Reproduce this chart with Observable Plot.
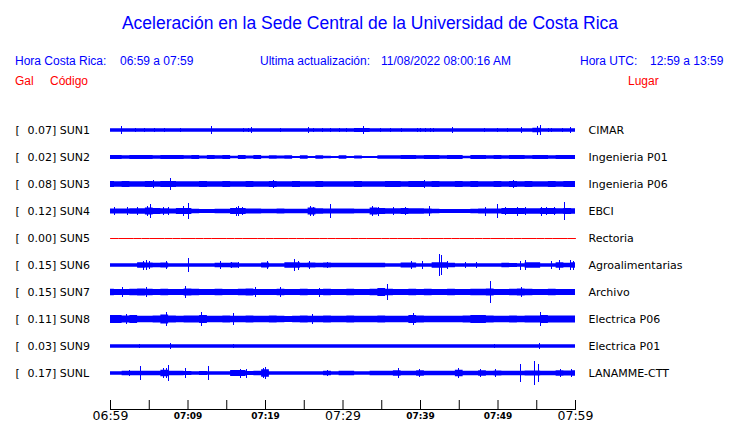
<!DOCTYPE html>
<html>
<head>
<meta charset="utf-8">
<script src="https://cdn.jsdelivr.net/npm/d3@7"></script>
<script src="https://cdn.jsdelivr.net/npm/@observablehq/plot@0.6"></script>
<style>
  html, body { margin: 0; padding: 0; background: #fff; }
  #page { position: relative; width: 740px; height: 423px; }
  #hdr { position: relative; width: 740px; height: 96px; font-family: "Liberation Sans", Arial, sans-serif; }
  #hdr span { position: absolute; white-space: pre; line-height: 12px; font-size: 12px; }
  #hdr .blue { color: #0000ff; }
  #hdr .red { color: #ff0000; }
  #title { position: absolute; left: 0; width: 740px; text-align: center; top: 14px; font-size: 17.5px !important; line-height: 18px !important; color: #0000ff; }
</style>
</head>
<body>
<div id="page">
  <div id="hdr">
    <span id="title">Aceleración en la Sede Central de la Universidad de Costa Rica</span>
    <span class="blue" style="left:15px;top:55px">Hora Costa Rica:</span>
    <span class="blue" style="left:120px;top:55px">06:59 a 07:59</span>
    <span class="blue" style="left:260px;top:55px">Ultima actualización:</span>
    <span class="blue" style="left:381px;top:55px">11/08/2022 08:00:16 AM</span>
    <span class="blue" style="left:580px;top:55px">Hora UTC:</span>
    <span class="blue" style="left:650px;top:55px">12:59 a 13:59</span>
    <span class="red" style="left:15px;top:75px">Gal</span>
    <span class="red" style="left:50px;top:75px">Código</span>
    <span class="red" style="left:628px;top:75px">Lugar</span>
  </div>
  <div id="chart"></div>
</div>
<script>
// ---- data ----
const stations = ["SUN1","SUN2","SUN3","SUN4","SUN5","SUN6","SUN7","SUN8","SUN9","SUNL"];
const places = ["CIMAR","Ingenieria P01","Ingenieria P06","EBCI","Rectoria","Agroalimentarias","Archivo","Electrica P06","Electrica P01","LANAMME-CTT"];
const maxGal = [0.07, 0.02, 0.08, 0.12, 0.00, 0.15, 0.15, 0.11, 0.03, 0.17];

// minutes after 06:59 for the axis
const tickMinutes = [0,5,10,15,20,25,30,35,40,45,50,55,60];
const labelMinutes = [0,10,20,30,40,50,60];
const tickLabels = ["06:59","07:09","07:19","07:29","07:39","07:49","07:59"];

// half-amplitude envelope (Gal), one value per minute 0..60
const envSUN1 = [0.021,0.021,0.021,0.021,0.021,0.021,0.021,0.021,0.021,0.021,
 0.021,0.021,0.021,0.021,0.021,0.021,0.021,0.021,0.021,0.021,
 0.021,0.021,0.021,0.021,0.021,0.021,0.021,0.021,0.021,0.021,
 0.021,0.022,0.024,0.024,0.021,0.021,0.021,0.021,0.021,0.021,
 0.021,0.021,0.021,0.021,0.021,0.021,0.021,0.021,0.021,0.021,
 0.021,0.021,0.021,0.021,0.021,0.026,0.022,0.021,0.021,0.021,0.021];
const envSUN2 = [0.024,0.024,0.022,0.024,0.024,0.024,0.022,0.024,0.024,0.024,0.022,0.024,
 0.018,0.024,0.02,0.024,0.016,0.024,0.018,0.024,0.016,0.022,0.018,
 0.022,0.012,0.02,0.012,0.022,0.016,0.012,0.02,0.012,0.018,0.012,
 0.012,0.02,0.022,0.02,0.024,0.024,0.022,0.024,0.024,0.022,0.024,0.024,
 0.014,0.024,0.024,0.022,0.024,0.022,0.024,0.024,0.022,0.024,0.024,0.022,0.024,0.024,0.024];
const envSUN3 = [0.037,0.033,0.037,0.035,0.033,0.037,0.035,0.037,0.037,0.033,0.035,0.033,
 0.037,0.033,0.035,0.037,0.033,0.035,0.037,0.033,0.035,0.037,0.033,
 0.035,0.037,0.033,0.035,0.037,0.033,0.035,0.033,0.035,0.037,0.033,
 0.033,0.035,0.037,0.037,0.035,0.037,0.037,0.035,0.037,0.033,0.035,0.037,
 0.035,0.037,0.035,0.033,0.037,0.035,0.037,0.035,0.037,0.035,0.033,0.037,0.035,0.037,0.037];
const envSUN4 = [0.03,0.03,0.03,0.033,0.033,0.042,0.038,0.033,0.03,0.036,0.038,0.027,
 0.024,0.024,0.026,0.026,0.038,0.038,0.03,0.03,0.027,0.027,0.03,
 0.027,0.027,0.027,0.042,0.033,0.03,0.03,0.03,0.03,0.029,0.029,
 0.042,0.038,0.033,0.033,0.036,0.033,0.033,0.03,0.027,0.025,0.025,0.025,
 0.025,0.027,0.03,0.03,0.03,0.036,0.038,0.036,0.033,0.033,0.036,0.038,0.033,0.036,0.033];
const envSUN5 = [0,0,0,0,0,0,0,0,0,0,0,0,0,0,0,0,0,0,0,0,0,0,0,0,0,0,0,0,0,0,
 0,0,0,0,0,0,0,0,0,0,0,0,0,0,0,0,0,0,0,0,0,0,0,0,0,0,0,0,0,0,0];
const envSUN6 = [0.021,0.021,0.022,0.022,0.035,0.03,0.026,0.03,0.022,0.022,0.022,0.021,
 0.021,0.021,0.028,0.026,0.03,0.022,0.022,0.021,0.03,0.022,0.022,
 0.035,0.035,0.026,0.03,0.026,0.03,0.027,0.026,0.027,0.027,0.028,
 0.027,0.026,0.022,0.022,0.03,0.03,0.022,0.022,0.033,0.033,0.028,0.021,
 0.021,0.021,0.022,0.021,0.021,0.026,0.025,0.021,0.035,0.033,0.022,0.022,0.033,0.029,0.035];
const envSUN7 = [0.04,0.036,0.036,0.04,0.044,0.04,0.036,0.04,0.036,0.036,0.044,0.04,
 0.036,0.036,0.04,0.036,0.036,0.04,0.044,0.036,0.036,0.036,0.04,
 0.036,0.036,0.04,0.036,0.036,0.04,0.036,0.036,0.04,0.036,0.036,
 0.04,0.048,0.04,0.036,0.036,0.04,0.036,0.04,0.036,0.036,0.04,0.036,
 0.036,0.04,0.04,0.044,0.036,0.036,0.04,0.044,0.04,0.036,0.036,0.04,0.036,0.036,0.036];
const envSUN8 = [0.048,0.048,0.044,0.048,0.04,0.04,0.044,0.054,0.044,0.04,0.044,0.044,
 0.048,0.04,0.04,0.044,0.04,0.04,0.044,0.04,0.04,0.044,0.04,
 0.038,0.04,0.044,0.04,0.04,0.044,0.04,0.04,0.044,0.04,0.04,
 0.04,0.044,0.04,0.04,0.04,0.048,0.044,0.04,0.04,0.04,0.04,0.04,
 0.044,0.048,0.048,0.044,0.04,0.04,0.044,0.04,0.044,0.044,0.05,0.044,0.044,0.044,0.044];
const envSUN9 = [0.022,0.022,0.022,0.022,0.022,0.022,0.022,0.022,0.022,0.022,0.022,0.022,
 0.022,0.022,0.022,0.022,0.022,0.022,0.022,0.022,0.022,0.022,0.022,
 0.022,0.022,0.022,0.022,0.022,0.022,0.022,0.022,0.022,0.022,0.022,
 0.022,0.022,0.022,0.022,0.022,0.022,0.022,0.022,0.022,0.022,0.022,0.022,
 0.022,0.022,0.022,0.022,0.022,0.022,0.022,0.022,0.022,0.022,0.022,0.022,0.022,0.022,0.022];
const envSUNL = [0.022,0.022,0.029,0.026,0.029,0.026,0.026,0.04,0.026,0.029,0.024,0.022,
 0.024,0.022,0.022,0.022,0.038,0.038,0.024,0.026,0.045,0.022,0.022,
 0.022,0.022,0.022,0.022,0.022,0.029,0.022,0.026,0.026,0.022,0.022,
 0.026,0.026,0.026,0.035,0.026,0.026,0.035,0.026,0.026,0.026,0.029,0.04,
 0.026,0.029,0.035,0.026,0.032,0.026,0.029,0.029,0.032,0.032,0.029,0.029,0.035,0.032,0.035];

// isolated peaks: [minute, half-amplitude in Gal]
const spkSUN1 = [[1.4,0.045],[3.2,0.028],[4.4,0.028],[5.7,0.028],[7.0,0.028],[9.0,0.025],[13.0,0.043],[17.2,0.028],[17.8,0.028],[18.2,0.036],[21.9,0.028],[25.6,0.033],[26.2,0.028],[27.3,0.028],[28.4,0.028],[29.5,0.028],[30.5,0.028],[31.8,0.03],[32.3,0.03],[32.7,0.05],[34.8,0.028],[36.1,0.028],[37.6,0.028],[39.6,0.028],[40.0,0.028],[40.6,0.028],[41.3,0.028],[41.7,0.028],[44.1,0.033],[48.2,0.028],[49.9,0.03],[51.2,0.03],[53.0,0.036],[55.1,0.055],[55.5,0.065],[56.5,0.03],[56.9,0.03],[58.3,0.028],[59.3,0.036]];
const spkSUN2 = [];
const spkSUN3 = [[5.5,0.045],[7.7,0.07],[21.0,0.045],[40.5,0.045],[45.0,0.042],[52.0,0.045]];
const spkSUN4 = [[0.5,0.045],[2.2,0.045],[3.5,0.05],[4.8,0.06],[5.2,0.082],[6.8,0.05],[7.5,0.045],[9.4,0.06],[10.0,0.098],[16.2,0.055],[16.5,0.06],[17.0,0.05],[25.8,0.06],[26.2,0.055],[28.4,0.082],[33.8,0.06],[34.6,0.055],[36.5,0.05],[38.0,0.05],[41.1,0.06],[48.4,0.055],[49.9,0.09],[51.0,0.05],[52.5,0.055],[53.5,0.05],[55.6,0.055],[56.2,0.05],[57.3,0.05],[58.6,0.115]];
const spkSUN5 = [];
const spkSUN6 = [[4.3,0.055],[4.6,0.065],[5.0,0.05],[7.2,0.045],[10.1,0.09],[14.2,0.045],[15.6,0.04],[16.5,0.04],[20.2,0.045],[23.8,0.07],[24.3,0.055],[25.7,0.045],[28.0,0.04],[38.9,0.045],[40.2,0.045],[42.5,0.13],[42.75,0.125],[43.5,0.05],[45.8,0.04],[47.2,0.04],[52.9,0.055],[53.5,0.06],[56.9,0.05],[57.9,0.06],[59.4,0.06],[59.8,0.055]];
const spkSUN7 = [[1.5,0.06],[4.7,0.06],[9.7,0.075],[18.7,0.06],[21.9,0.06],[27.0,0.055],[35.7,0.095],[49.0,0.135],[53.0,0.065]];
const spkSUN8 = [[2.0,0.065],[7.2,0.085],[11.8,0.09],[15.9,0.075],[26.0,0.06],[39.1,0.075],[55.5,0.08]];
const spkSUN9 = [[3.7,0.03],[7.8,0.037],[15.9,0.03],[49.5,0.03],[55.4,0.037]];
const spkSUNL = [[2.5,0.04],[3.9,0.085],[6.8,0.06],[7.2,0.065],[7.5,0.1],[9.7,0.06],[12.7,0.085],[16.8,0.055],[17.5,0.055],[19.8,0.06],[20.0,0.073],[28.0,0.04],[37.2,0.067],[39.9,0.05],[44.9,0.06],[47.7,0.05],[49.7,0.045],[52.9,0.11],[54.7,0.15],[55.2,0.11],[58.0,0.05],[59.5,0.05]];

// ---- build tables ----
const envelopes = [envSUN1,envSUN2,envSUN3,envSUN4,envSUN5,envSUN6,envSUN7,envSUN8,envSUN9,envSUNL];
const spikes = [spkSUN1,spkSUN2,spkSUN3,spkSUN4,spkSUN5,spkSUN6,spkSUN7,spkSUN8,spkSUN9,spkSUNL];

const ROW = 0.33;              // Gal between trace baselines
const off = i => -i * ROW;
const envRows = [];
envelopes.forEach((arr, i) => arr.forEach((a, t) => envRows.push({station: stations[i], i, t, a})));
const spikeRows = [];
spikes.forEach((arr, i) => arr.forEach(([t, a]) => spikeRows.push({station: stations[i], i, t, a})));
const live = new Set(stations.filter((s, i) => maxGal[i] > 0));
const rows = stations.map((s, i) => ({station: s, i, place: places[i], max: maxGal[i]}));
const ticks = labelMinutes.map((m, k) => ({m, label: tickLabels[k], major: k % 3 === 0}));

const yTop = ROW * 34 / 27, yBottom = -ROW * 279 / 27;

const chart = Plot.plot({
  width: 740,
  height: 327,
  marginTop: 0,
  marginBottom: 14,
  marginLeft: 110,
  marginRight: 165,
  style: {fontFamily: "'DejaVu Sans', sans-serif", fontSize: "11px", background: "#fff", overflow: "visible"},
  x: {domain: [0, 60]},
  y: {domain: [yBottom, yTop], axis: null},
  marks: [
    Plot.areaY(envRows.filter(d => live.has(d.station)), {
      x: "t", y1: d => off(d.i) - d.a, y2: d => off(d.i) + d.a, z: "station",
      fill: "#0000ff", curve: "step"
    }),
    Plot.ruleX(spikeRows, {x: "t", y1: d => off(d.i) - d.a, y2: d => off(d.i) + d.a, stroke: "#0000ff", strokeWidth: 1, shapeRendering: "crispEdges"}),
    Plot.lineY(envRows.filter(d => !live.has(d.station)), {
      x: "t", y: d => off(d.i) + d.a, z: "station", stroke: "#ff0000", strokeWidth: 1
    }),
    Plot.text(rows, {y: d => off(d.i), text: () => "[", frameAnchor: "left", textAnchor: "start", dx: -95, fill: "#000"}),
    Plot.text(rows, {y: d => off(d.i), text: d => `${d.max.toFixed(2)}] ${d.station}`, frameAnchor: "left", textAnchor: "start", dx: -83, fill: "#000"}),
    Plot.text(rows, {y: d => off(d.i), text: "place", frameAnchor: "right", textAnchor: "start", dx: 13, fill: "#000"}),
    Plot.frame({anchor: "bottom", stroke: "#000"}),
    Plot.axisX(tickMinutes, {tickSize: -9, tickFormat: () => "", label: null, stroke: "#000"}),
    Plot.axisX(ticks.filter(d => d.major).map(d => d.m), {tickSize: 0, tickPadding: 2, fontSize: 12.5, fill: "#000", label: null,
      tickFormat: m => ticks.find(d => d.m === m).label}),
    Plot.axisX(ticks.filter(d => !d.major).map(d => d.m), {tickSize: 0, tickPadding: 3, fontSize: 9, fontWeight: "bold", fill: "#000", label: null,
      tickFormat: m => ticks.find(d => d.m === m).label})
  ]
});
document.getElementById("chart").appendChild(chart);
</script>
</body>
</html>
